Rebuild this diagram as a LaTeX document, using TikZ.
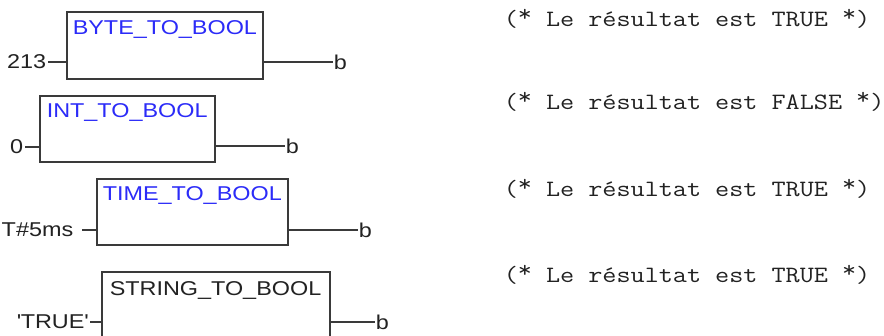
\documentclass[tikz,border=0pt]{standalone}
\usepackage{fontspec}
\setmainfont[FakeStretch=1.17]{Liberation Sans}
\newfontfamily\codefont[FakeStretch=1.17]{Latin Modern Mono}
\usetikzlibrary{positioning}
\definecolor{fbdblue}{HTML}{2B2BF8}
\definecolor{fbdline}{HTML}{3A3A3A}
\definecolor{fbdtext}{HTML}{222222}
\newcommand\hiast{\raisebox{.2em}{*}}
\tikzset{
  every picture/.style={font=\fontsize{20}{24}\selectfont, line width=1.5pt},
  fbbox/.style={draw=fbdline, line width=2pt, inner sep=0pt},
  fbname/.style={anchor=north west, inner sep=0pt, text=#1},
  fbname/.default=fbdblue,
  invar/.style={anchor=east, inner sep=1pt, text=fbdtext},
  outvar/.style={anchor=west, inner sep=0pt, text=fbdtext},
  wire/.style={draw=fbdline, line width=1.5pt},
  remark/.style={anchor=west, inner sep=0pt, font=\codefont\fontsize{23.4}{28}\selectfont, text=fbdtext},
}

\begin{document}
\begin{tikzpicture}[x=1pt, y=-1pt]
  \useasboundingbox[fill=white] (0,0) rectangle (884,336);
  \clip (0,0) rectangle (884,336);
  % function blocks
  \node[fbbox, minimum width=196pt, minimum height=67pt] (byte) at (165,45.5) {};
  \node[fbbox, minimum width=175pt, minimum height=66pt] (int) at (127.5,129) {};
  \node[fbbox, minimum width=191pt, minimum height=66pt] (time) at (192.5,212) {};
  \node[fbbox, minimum width=228pt, minimum height=67pt] (string) at (216,305.5) {};
  \node[fbname] (byteN) at ([shift={(6,9)}]byte.north west) {BYTE\_TO\_BOOL};
  \node[fbname] (intN) at ([shift={(7,8)}]int.north west) {INT\_TO\_BOOL};
  \node[fbname] (timeN) at ([shift={(6,8)}]time.north west) {TIME\_TO\_BOOL};
  \node[fbname=fbdtext] (stringN) at ([shift={(8,10)}]string.north west) {STRING\_TO\_BOOL};
  % inputs
  \node[invar] (in1) at (48,62) {213};
  \node[invar] (in2) at (25,147) {0};
  \node[invar, inner xsep=8pt] (in3) at (82,230) {T\#5ms};
  \node[invar] (in4) at (90,322) {\textquotesingle TRUE\textquotesingle};
  \draw[wire] (in1.east) -- (in1.east -| byte.west);
  \draw[wire] (in2.east) -- (in2.east -| int.west);
  \draw[wire] (in3.east) -- (in3.east -| time.west);
  \draw[wire] (in4.east) -- (in4.east -| string.west);
  % outputs
  \node[outvar] (out1) at (333,62) {b};
  \node[outvar] (out2) at (285,146) {b};
  \node[outvar] (out3) at (358,230) {b};
  \node[outvar] (out4) at (375,322) {b};
  \draw[wire] (out1.west -| byte.east) -- (out1.west);
  \draw[wire] (out2.west -| int.east) -- (out2.west);
  \draw[wire] (out3.west -| time.east) -- (out3.west);
  \draw[wire] (out4.west -| string.east) -- (out4.west);
  % results
  \foreach \row/\y/\res in {1/19/TRUE, 2/102/FALSE, 3/189/TRUE, 4/275/TRUE}
    \node[remark] (res\row) at (503,\y) {(\hiast{} Le résultat est \res\ \hiast)};
\end{tikzpicture}
\end{document}
